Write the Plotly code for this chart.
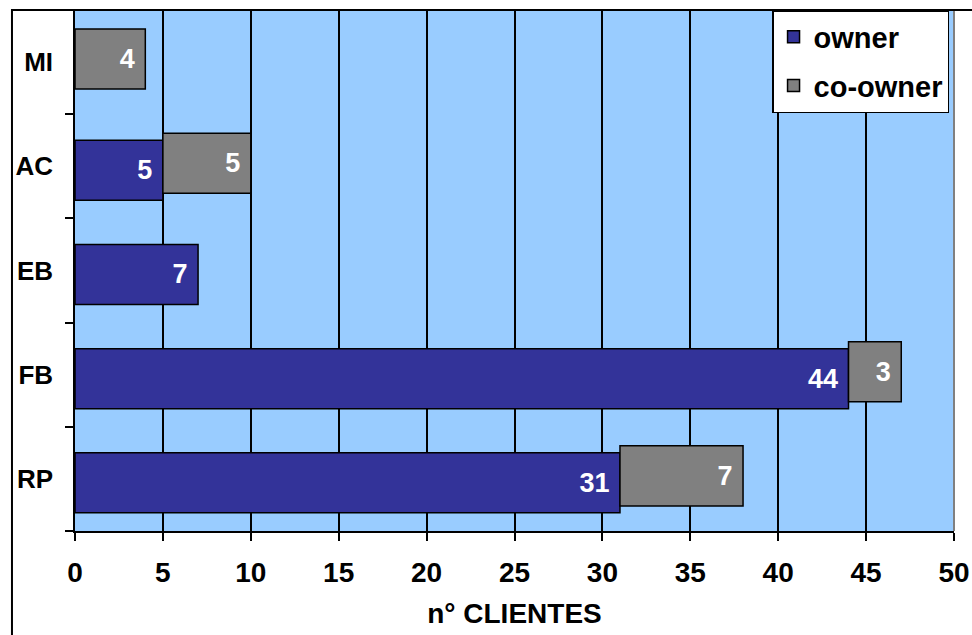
import plotly.graph_objects as go

categories = ["RP", "FB", "EB", "AC", "MI"]
owner = [31, 44, 7, 5, None]
co_owner = [7, 3, None, 5, 4]
x_ticks = [0, 5, 10, 15, 20, 25, 30, 35, 40, 45, 50]

owner_base = [v if v is not None else 0 for v in owner]

BAR_W = 0.576
FONT = "Arial, Liberation Sans, sans-serif"

fig = go.Figure()
fig.add_trace(go.Bar(
    y=categories, x=owner, orientation="h", name="owner",
    marker=dict(color="#333399", line=dict(color="black", width=1.5)),
    width=BAR_W, offset=-BAR_W / 2 - 0.038,
    texttemplate="%{x}\u00a0", textposition="inside", insidetextanchor="end",
    textfont=dict(color="white", size=27, family=FONT, weight="bold"),
    legendgroup="a",
))
fig.add_trace(go.Bar(
    y=categories, x=co_owner, base=owner_base, orientation="h", name="co-owner",
    marker=dict(color="#808080", line=dict(color="black", width=1.5)),
    width=BAR_W, offset=-BAR_W / 2 + 0.029,
    texttemplate="%{x}\u00a0", textposition="inside", insidetextanchor="end",
    textfont=dict(color="white", size=27, family=FONT, weight="bold"),
    legendgroup="b",
))

fig.update_layout(
    width=972, height=635,
    margin=dict(l=75, r=18, t=10, b=104, autoexpand=False),
    paper_bgcolor="white", plot_bgcolor="#99CCFF",
    barmode="overlay",
    font=dict(family=FONT, color="black"),
    showlegend=True,
    legend=dict(
        x=0.793, y=1, xanchor="left", yanchor="top",
        bgcolor="white", bordercolor="black", borderwidth=1.5,
        font=dict(size=29, family=FONT, weight="bold"),
        tracegroupgap=8, traceorder="grouped",
    ),
)

fig.update_xaxes(
    range=[0, 50], tickvals=x_ticks, ticktext=[str(t) for t in x_ticks],
    ticks="outside", ticklen=8, tickwidth=1.5, tickcolor="black",
    showline=True, linecolor="black", linewidth=1.5,
    showgrid=True, gridcolor="black", gridwidth=1.5,
    zeroline=False, automargin=False,
    tickfont=dict(size=28, family=FONT, weight="bold"),
    ticklabelstandoff=8,
    title=dict(text="n° CLIENTES", font=dict(size=28, family=FONT, weight="bold"), standoff=16),
)
fig.update_yaxes(
    type="category", categoryorder="array", categoryarray=categories,
    tickson="boundaries",
    ticks="outside", ticklen=8, tickwidth=1.5, tickcolor="black",
    showline=True, linecolor="black", linewidth=1.5,
    showgrid=False, zeroline=False, automargin=False,
    tickfont=dict(size=26, family=FONT, weight="bold"),
    ticklabelstandoff=15,
)

# plot area right border (gray)
fig.add_shape(type="line", xref="paper", yref="paper", x0=1, x1=1, y0=0, y1=1,
              line=dict(color="#808080", width=2))
# outer chart border
fig.add_shape(type="rect", xref="paper", yref="paper",
              x0=-0.0717, x1=1.1, y0=-0.3, y1=1.0,
              line=dict(color="black", width=2), layer="above")

fig.write_html("out.html", config={"displayModeBar": False},
               post_script="document.body.style.margin='0px';")
